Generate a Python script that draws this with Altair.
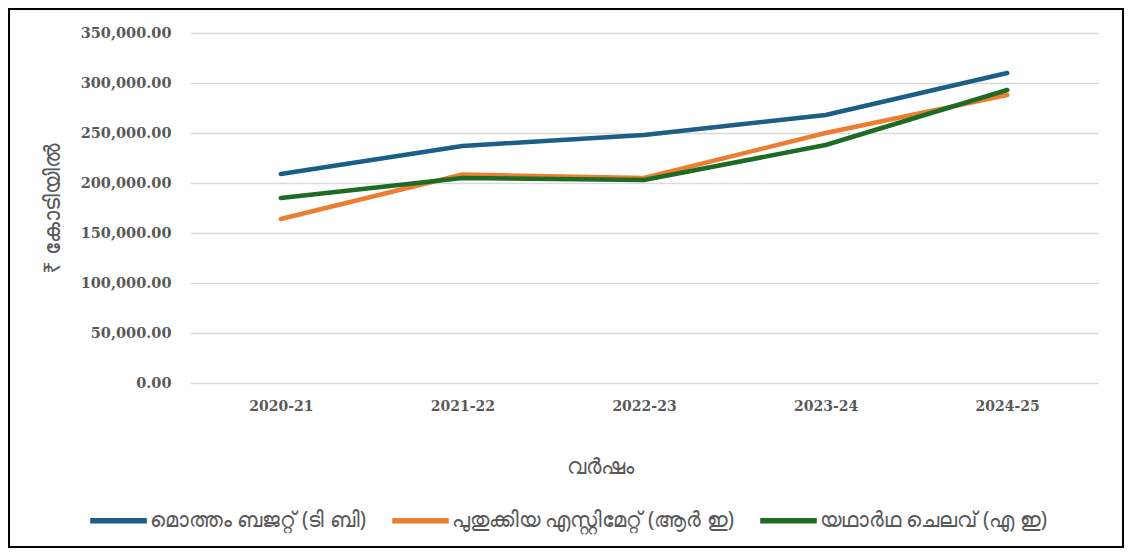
import altair as alt
import pandas as pd

years = ["2020-21", "2021-22", "2022-23", "2023-24", "2024-25"]
series_names = [
    "മൊത്തം ബജറ്റ് (ടി ബി)",
    "പുതുക്കിയ എസ്റ്റിമേറ്റ് (ആർ ഇ)",
    "യഥാർഥ ചെലവ് (എ ഇ)",
]
total_budget = [209000, 237000, 248000, 268000, 310000]
revised_estimate = [164000, 208500, 205000, 250000, 288000]
actual_expenditure = [185000, 205000, 203000, 238000, 293000]
colors = ["#1b5f86", "#ed7d31", "#1d6b25"]

rows = []
for name, vals in zip(series_names, [total_budget, revised_estimate, actual_expenditure]):
    for y, v in zip(years, vals):
        rows.append({"year": y, "series": name, "value": v})
df = pd.DataFrame(rows)

W, H = 908, 350

lines = alt.Chart(df).mark_line(strokeWidth=4.5, strokeCap="round", strokeJoin="round").encode(
    x=alt.X("year:N", sort=years, scale=alt.Scale(type="point", padding=0.5),
            axis=alt.Axis(title="വർഷം", labelAngle=0, labelFont="DejaVu Serif",
                          labelFontWeight="bold", labelFontSize=14, labelColor="#595959",
                          labelPadding=16, ticks=False, domain=False, grid=False,
                          titleFont="Noto Sans", titleFontSize=22, titleFontWeight="normal",
                          titleColor="#595959", titleBaseline="middle", titleAlign="center",
                          titleX=410, titleY=83)),
    y=alt.Y("value:Q", scale=alt.Scale(domain=[0, 350000], nice=False),
            axis=alt.Axis(title="₹ കോടിയിൽ", format=",.2f", values=[0, 50000, 100000, 150000, 200000, 250000, 300000, 350000],
                          labelFont="DejaVu Serif", labelFontWeight="bold", labelFontSize=14.5,
                          labelColor="#595959", labelPadding=19, ticks=False, domain=False,
                          gridColor="#d9d9d9", gridWidth=1.5,
                          titleFont="Noto Sans", titleFontSize=22, titleFontWeight="normal",
                          titleColor="#595959", titleBaseline="middle", titleX=-138)),
    color=alt.Color("series:N", sort=series_names,
                    scale=alt.Scale(domain=series_names, range=colors),
                    legend=alt.Legend(title=None, orient="none", direction="horizontal",
                                      legendX=-103, legendY=456,
                                      symbolType="stroke", symbolSize=3200, symbolStrokeWidth=5.5,
                                      labelFont="Noto Sans", labelFontSize=21, labelColor="#595959",
                                      labelLimit=0, labelOffset=0, columnPadding=15)),
    order=alt.value(0),
)

border = alt.Chart(pd.DataFrame({"a": [0]})).mark_rect(fill=None, stroke="#000000", strokeWidth=2).encode(
    x=alt.value(-181), x2=alt.value(W + 25), y=alt.value(-24), y2=alt.value(H + 164)
)

chart = alt.layer(lines, border).properties(
    width=W, height=H,
    autosize=alt.AutoSizeParams(type="none"),
    padding={"left": 182, "top": 25, "right": 26, "bottom": 165},
).configure(background="white").configure_view(strokeWidth=0, stroke="transparent")

chart.save("out.html", embed_options={"renderer": "svg", "actions": False})
